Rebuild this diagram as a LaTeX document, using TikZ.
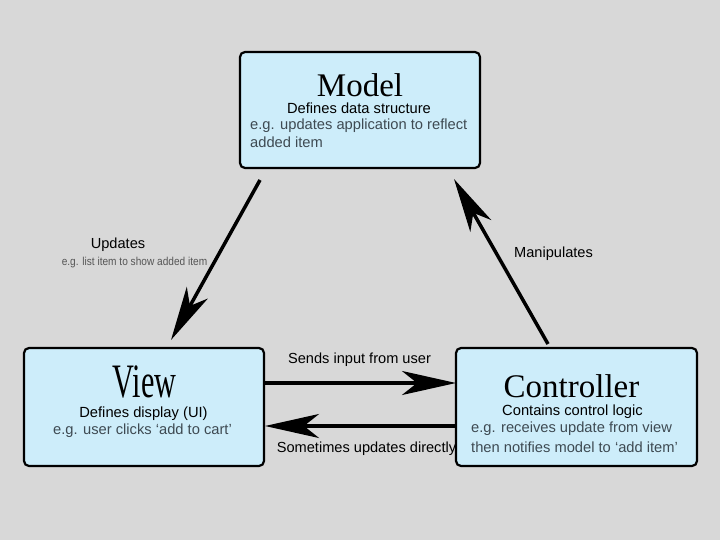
\documentclass[tikz,border=0pt]{standalone}
\usepackage{fontspec}
\setmainfont{Liberation Sans}
\newfontfamily\titlefont{Liberation Serif}
\usetikzlibrary{arrows.meta}
\definecolor{bg}{HTML}{D8D8D8}
\definecolor{boxfill}{HTML}{CDEDFA}
\definecolor{egtext}{HTML}{3E4A52}
\definecolor{smallgray}{HTML}{555555}
\tikzset{
  box/.style={draw=black, line width=2.2pt, fill=boxfill, rounded corners=5pt},
  title/.style={font=\titlefont, inner sep=0pt, anchor=base},
  sub/.style={font=\fontsize{14.7}{16}\selectfont, text=black, inner sep=0pt, anchor=base},
  eg/.style={font=\fontsize{14.7}{18}\selectfont, text=egtext, inner sep=0pt, anchor=base},
  lbl/.style={font=\fontsize{14.6}{16}\selectfont, text=black, inner sep=0pt, anchor=base},
  conn/.style={line width=3.5pt, -{Stealth[length=54pt, width=24pt, inset=15pt]}},
}
\begin{document}
\begin{tikzpicture}[x=1pt,y=-1pt]
\fill[bg] (0,0) rectangle (720,540);
\useasboundingbox (0,0) rectangle (720,540);
% boxes
\node[box, minimum width=240pt, minimum height=116pt] (model) at (360,110) {};
\node[box, minimum width=240pt, minimum height=118pt] (view) at (144,407) {};
\node[box, minimum width=241pt, minimum height=118pt] (ctrl) at (576.5,407) {};
% model texts
\node[title, font=\titlefont\fontsize{33}{35}\selectfont] (mt) at (360,97) {Model};
\node[sub] (ms) at (359,114) {Defines data structure};
\node[eg, anchor=base west] (me1) at (250,130) {e.g. updates application to reflect};
\node[eg, anchor=base west] (me2) at (250,148) {added item};
% view texts
\node[title, font=\titlefont\fontsize{48}{50}\selectfont, xscale=0.63] (vt) at (144.5,397) {View};
\node[sub] (vs) at (143.5,417) {Defines display (UI)};
\node[eg] (ve) at (142.5,434) {e.g. user clicks ‘add to cart’};
% controller texts
\node[title, font=\titlefont\fontsize{33}{35}\selectfont] (ct) at (571.5,397) {Controller};
\node[sub] (cs) at (572.5,415) {Contains control logic};
\node[eg, anchor=base west] (ce1) at (471,432) {e.g. receives update from view};
\node[eg, anchor=base west] (ce2) at (471,452) {then notifies model to ‘add item’};
% connector endpoints
\coordinate (m1) at (260,180);
\coordinate (v1) at (171,340);
\coordinate (c1) at (548,344);
\coordinate (m2) at (454,179);
\coordinate (v2) at (265,383);
\coordinate (c2) at (456,383);
\coordinate (c3) at (456,426);
\coordinate (v3) at (265,426);
\draw[conn] (m1) -- (v1);
\draw[conn] (c1) -- (m2);
\draw[conn] (v2) -- (c2);
\draw[conn] (c3) -- (v3);
% labels
\node[lbl] (l1) at (118,248) {Updates};
\node[font=\fontsize{11.5}{13}\selectfont, text=smallgray, inner sep=0pt, xscale=0.88, anchor=base] (l1b) at (134.5,265) {e.g. list item to show added item};
\node[lbl] (l2) at (553.5,257) {Manipulates};
\node[lbl] (l3) at (359.5,363) {Sends input from user};
\node[lbl] (l4) at (366.5,452) {Sometimes updates directly};
\end{tikzpicture}
\end{document}
